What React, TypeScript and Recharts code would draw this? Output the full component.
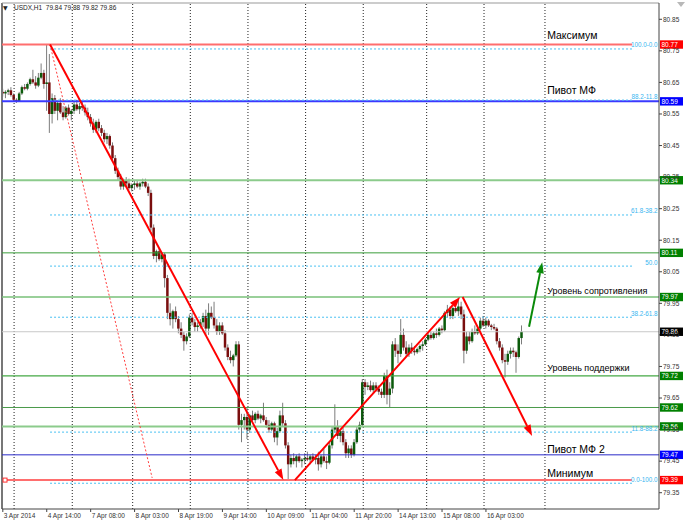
import React from 'react';
import { ComposedChart, Bar, XAxis, YAxis, ReferenceLine, ReferenceDot } from 'recharts';

const FONT = '"Liberation Sans", Arial, sans-serif';

const opens = [
  80.62, 80.615, 80.62, 80.625, 80.61, 80.595, 80.59, 80.615, 80.635, 80.63,
  80.645, 80.66, 80.65, 80.64, 80.665, 80.68, 80.645, 80.65, 80.55, 80.60,
  80.56, 80.585, 80.555, 80.54, 80.57, 80.55, 80.56, 80.58, 80.565, 80.575,
  80.57, 80.555, 80.54, 80.52, 80.50, 80.525, 80.505, 80.49, 80.47, 80.48,
  80.45, 80.41, 80.37, 80.35, 80.32, 80.34, 80.33, 80.315, 80.325, 80.33,
  80.32, 80.33, 80.335, 80.32, 80.30, 80.19, 80.10, 80.115, 80.09, 80.105,
  80.03, 79.92, 79.90, 79.925, 79.90, 79.87, 79.85, 79.83, 79.845, 79.905,
  79.89, 79.875, 79.88, 79.89, 79.91, 79.87, 79.92, 79.905, 79.88, 79.86,
  79.88, 79.855, 79.81, 79.78, 79.77, 79.785, 79.82, 79.565, 79.58, 79.59,
  79.55, 79.595, 79.58, 79.60, 79.585, 79.595, 79.58, 79.565, 79.55, 79.57,
  79.525, 79.545, 79.595, 79.57, 79.50, 79.44, 79.46, 79.45, 79.465, 79.45,
  79.455, 79.46, 79.455, 79.465, 79.455, 79.46, 79.44, 79.465, 79.45, 79.445,
  79.50, 79.55, 79.56, 79.53, 79.545, 79.51, 79.475, 79.49, 79.47, 79.51,
  79.55, 79.565, 79.70, 79.685, 79.69, 79.675, 79.69, 79.68, 79.67, 79.66,
  79.72, 79.66, 79.68, 79.82, 79.80, 79.79, 79.85, 79.81, 79.79, 79.81,
  79.80, 79.795, 79.805, 79.815, 79.82, 79.835, 79.85, 79.84, 79.855, 79.85,
  79.87, 79.865, 79.92, 79.93, 79.91, 79.935, 79.925, 79.94, 79.915, 79.80,
  79.845, 79.83, 79.86, 79.855, 79.87, 79.895, 79.88, 79.895, 79.88, 79.875,
  79.87, 79.83, 79.81, 79.77, 79.765, 79.79, 79.80, 79.795, 79.78, 79.84,
];

const highs = [
  80.63, 80.625, 80.63, 80.635, 80.615, 80.60, 80.62, 80.64, 80.645, 80.65,
  80.665, 80.69, 80.67, 80.68, 80.71, 80.69, 80.77, 80.74, 80.615, 80.61,
  80.59, 80.60, 80.575, 80.575, 80.58, 80.565, 80.59, 80.595, 80.585, 80.59,
  80.58, 80.57, 80.55, 80.535, 80.53, 80.535, 80.515, 80.50, 80.49, 80.485,
  80.46, 80.42, 80.38, 80.36, 80.345, 80.35, 80.345, 80.33, 80.34, 80.34,
  80.335, 80.345, 80.345, 80.33, 80.31, 80.20, 80.12, 80.125, 80.11, 80.11,
  80.04, 79.95, 79.93, 79.94, 79.91, 79.89, 79.86, 79.855, 79.915, 79.92,
  79.90, 79.89, 79.90, 79.92, 79.93, 79.95, 79.94, 79.955, 79.90, 79.89,
  79.89, 79.865, 79.82, 79.80, 79.79, 79.83, 79.83, 79.60, 79.60, 79.62,
  79.60, 79.61, 79.605, 79.61, 79.60, 79.635, 79.59, 79.58, 79.575, 79.575,
  79.555, 79.61, 79.635, 79.58, 79.51, 79.47, 79.475, 79.47, 79.475, 79.46,
  79.475, 79.48, 79.47, 79.475, 79.47, 79.48, 79.47, 79.49, 79.465, 79.51,
  79.56, 79.63, 79.58, 79.55, 79.555, 79.52, 79.50, 79.50, 79.52, 79.56,
  79.575, 79.71, 79.71, 79.70, 79.705, 79.70, 79.70, 79.69, 79.68, 79.73,
  79.74, 79.70, 79.83, 79.84, 79.82, 79.90, 79.87, 79.83, 79.82, 79.825,
  79.815, 79.81, 79.82, 79.83, 79.84, 79.855, 79.86, 79.86, 79.87, 79.875,
  79.88, 79.925, 79.945, 79.94, 79.94, 79.95, 79.97, 79.955, 79.93, 79.86,
  79.86, 79.87, 79.88, 79.875, 79.905, 79.91, 79.905, 79.90, 79.885, 79.885,
  79.875, 79.84, 79.82, 79.79, 79.80, 79.81, 79.81, 79.80, 79.845, 79.88,
];

const lows = [
  80.605, 80.60, 80.61, 80.605, 80.59, 80.585, 80.588, 80.61, 80.625, 80.625,
  80.64, 80.645, 80.63, 80.635, 80.66, 80.63, 80.56, 80.49, 80.52, 80.55,
  80.53, 80.55, 80.53, 80.535, 80.545, 80.53, 80.55, 80.56, 80.55, 80.56,
  80.545, 80.53, 80.51, 80.49, 80.49, 80.495, 80.48, 80.46, 80.455, 80.44,
  80.40, 80.36, 80.34, 80.31, 80.31, 80.32, 80.31, 80.305, 80.31, 80.315,
  80.31, 80.32, 80.315, 80.29, 80.18, 80.09, 80.08, 80.085, 80.08, 80.00,
  79.90, 79.88, 79.87, 79.89, 79.855, 79.84, 79.80, 79.82, 79.84, 79.88,
  79.86, 79.86, 79.87, 79.875, 79.85, 79.85, 79.90, 79.87, 79.85, 79.85,
  79.85, 79.80, 79.77, 79.76, 79.75, 79.78, 79.55, 79.51, 79.55, 79.52,
  79.54, 79.575, 79.57, 79.58, 79.57, 79.575, 79.555, 79.54, 79.545, 79.51,
  79.50, 79.54, 79.56, 79.49, 79.39, 79.43, 79.44, 79.43, 79.445, 79.43,
  79.44, 79.45, 79.44, 79.45, 79.44, 79.42, 79.43, 79.445, 79.425, 79.44,
  79.49, 79.54, 79.52, 79.51, 79.50, 79.46, 79.46, 79.46, 79.465, 79.505,
  79.54, 79.56, 79.66, 79.675, 79.67, 79.665, 79.67, 79.66, 79.65, 79.65,
  79.63, 79.62, 79.665, 79.78, 79.76, 79.78, 79.80, 79.78, 79.78, 79.79,
  79.785, 79.79, 79.795, 79.80, 79.815, 79.83, 79.835, 79.835, 79.84, 79.845,
  79.855, 79.86, 79.905, 79.90, 79.90, 79.92, 79.91, 79.90, 79.76, 79.79,
  79.82, 79.825, 79.85, 79.85, 79.865, 79.875, 79.87, 79.875, 79.865, 79.865,
  79.82, 79.80, 79.76, 79.715, 79.755, 79.775, 79.78, 79.73, 79.775, 79.82,
];

const closes = [
  80.615, 80.62, 80.625, 80.61, 80.595, 80.59, 80.615, 80.635, 80.63, 80.645,
  80.66, 80.65, 80.64, 80.665, 80.68, 80.645, 80.65, 80.55, 80.60, 80.56,
  80.585, 80.555, 80.54, 80.57, 80.55, 80.56, 80.58, 80.565, 80.575, 80.57,
  80.555, 80.54, 80.52, 80.50, 80.525, 80.505, 80.49, 80.47, 80.48, 80.45,
  80.41, 80.37, 80.35, 80.32, 80.34, 80.33, 80.315, 80.325, 80.33, 80.32,
  80.33, 80.335, 80.32, 80.30, 80.19, 80.10, 80.115, 80.09, 80.105, 80.03,
  79.92, 79.90, 79.925, 79.90, 79.87, 79.85, 79.83, 79.845, 79.905, 79.89,
  79.875, 79.88, 79.89, 79.91, 79.87, 79.92, 79.905, 79.88, 79.86, 79.88,
  79.855, 79.81, 79.78, 79.77, 79.785, 79.82, 79.565, 79.58, 79.59, 79.55,
  79.595, 79.58, 79.60, 79.585, 79.595, 79.58, 79.565, 79.55, 79.57, 79.525,
  79.545, 79.595, 79.57, 79.50, 79.44, 79.46, 79.45, 79.465, 79.45, 79.455,
  79.46, 79.455, 79.465, 79.455, 79.46, 79.44, 79.465, 79.45, 79.445, 79.50,
  79.55, 79.56, 79.53, 79.545, 79.51, 79.475, 79.49, 79.47, 79.51, 79.55,
  79.565, 79.70, 79.685, 79.69, 79.675, 79.69, 79.68, 79.67, 79.66, 79.72,
  79.66, 79.68, 79.82, 79.80, 79.79, 79.85, 79.81, 79.79, 79.81, 79.80,
  79.795, 79.805, 79.815, 79.82, 79.835, 79.85, 79.84, 79.855, 79.85, 79.87,
  79.865, 79.92, 79.93, 79.91, 79.935, 79.925, 79.94, 79.915, 79.80, 79.845,
  79.83, 79.86, 79.855, 79.87, 79.895, 79.88, 79.895, 79.88, 79.875, 79.87,
  79.83, 79.81, 79.77, 79.765, 79.79, 79.80, 79.795, 79.78, 79.84, 79.86,
];

const timeTickBars = [0, 16, 32, 48, 64, 80, 96, 112, 128, 144, 160, 176];
const timeTickLabels = [
  '3 Apr 2014', '4 Apr 14:00', '7 Apr 08:00', '8 Apr 03:00', '8 Apr 19:00', '9 Apr 14:00',
  '10 Apr 09:00', '11 Apr 04:00', '11 Apr 20:00', '14 Apr 13:00', '15 Apr 08:00', '16 Apr 03:00',
];
const priceTicks = [79.35, 79.45, 79.55, 79.65, 79.75, 79.85, 79.95, 80.05, 80.15, 80.25, 80.35, 80.45, 80.55, 80.65, 80.75, 80.85];
const gridBars = [4.1, 25.3, 47.3, 68.3, 89.3, 110.3, 131.3, 154.4, 175.3, 197.5];

const xDomain = [-0.3, 239.04];
const yDomain = [79.2984, 80.9016];

// horizontal level lines
const greenLevels = [80.34, 80.11, 79.97, 79.72, 79.62, 79.56];
const greenColors = ['#8ccb8c', '#3a9e3a', '#78c078', '#45a845', '#4a9a4a', '#8ccb8c'];
const greenWidths = [2, 1, 1.6, 1.2, 1, 2];
const pivotLevels = [80.59, 79.47];
const pivotColors = ['#3a3aff', '#2a2ac8'];
const pivotWidths = [2, 1];
const bidPrice = 79.86;
const extremeLevels = [80.77, 79.39];
const extremeStartBars = [-0.3, 0.8];
const extremeEndBar = 229.2;

// price boxes on the axis
const boxPrices = [80.77, 80.59, 80.34, 80.11, 79.97, 79.86, 79.72, 79.62, 79.56, 79.47, 79.39];
const boxColors = ['#ff0000', '#0000ff', '#008000', '#008000', '#008000', '#000000', '#008000', '#008000', '#008000', '#0000ff', '#ff0000'];

// fibonacci
const fiboPrices = [80.756, 80.594, 80.23, 80.068, 79.906, 79.542, 79.38];
const fiboLabels = ['100.0-0.0', '88.2-11.8', '61.8-38.2', '50.0', '38.2-61.8', '11.8-88.2', '0.0-100.0'];
const fiboStartBar = 17.2;
const fiboEndBar = 229.2;

// trend arrows
const arrowFrom = [
  { bar: 17.2, price: 80.77 },
  { bar: 106.4, price: 79.39 },
  { bar: 167.5, price: 79.97 },
  { bar: 191.7, price: 79.876 },
];
const arrowTo = [
  { bar: 102.2, price: 79.39 },
  { bar: 166.6, price: 79.97 },
  { bar: 192.8, price: 79.53 },
  { bar: 196.5, price: 80.08 },
];
const arrowColors = ['#ff0000', '#ff0000', '#ff0000', '#0a8a0a'];
const dottedFrom = { bar: 17.2, price: 80.77 };
const dottedTo = { bar: 54.4, price: 79.397 };

// text notes
const noteTexts = ['Максимум', 'Пивот МФ', 'Уровень сопротивления', 'Уровень поддержки', 'Пивот МФ 2', 'Минимум'];
const noteBars = [198.3, 198.3, 198.3, 198.3, 198.3, 198.3];
const notePrices = [80.788, 80.613, 79.98, 79.736, 79.477, 79.40];
const noteSizes = [10.5, 10.5, 9, 9, 10.5, 10.5];

const candles = opens.map((o, i) => ({
  bar: i,
  o,
  h: highs[i],
  l: lows[i],
  c: closes[i],
  range: [lows[i], highs[i]],
}));

const Candle = (props: any) => {
  const { x, y, width, height, payload } = props;
  if (x == null || y == null) return null;
  const top = Math.min(y, y + height);
  const hgt = Math.abs(height);
  const { o, h, l, c } = payload;
  const cx = x + width / 2;
  const span = h - l;
  const py = (p: number) => (span === 0 ? top : top + ((h - p) / span) * hgt);
  const bt = py(Math.max(o, c));
  const bb = py(Math.min(o, c));
  const up = c >= o;
  return (
    <g>
      <line x1={cx} x2={cx} y1={top} y2={top + hgt} stroke="#7c7c7c" strokeWidth={1} />
      <rect x={cx - 1.25} y={bt} width={2.5} height={Math.max(bb - bt, 0.8)} fill={up ? '#0b5a0b' : '#7a0e0e'} />
    </g>
  );
};

const XTick = (props: any) => {
  const { x, y, payload } = props;
  const idx = timeTickBars.indexOf(payload.value);
  return (
    <text x={x + 1} y={y + 5.5} fontSize={6.5} fill="#333" fontFamily={FONT} textAnchor="start">
      {timeTickLabels[idx]}
    </text>
  );
};

const YTick = (props: any) => {
  const { x, y, payload } = props;
  return (
    <text x={x} y={y + 2.3} fontSize={6.5} fill="#333" fontFamily={FONT} textAnchor="start">
      {Number(payload.value).toFixed(2)}
    </text>
  );
};

const arrowShape = (color: string, w: number) => (p: any) => {
  const { x1, y1, x2, y2 } = p;
  const ang = Math.atan2(y2 - y1, x2 - x1);
  const len = 11;
  const half = 3.8;
  const bx = x2 - len * Math.cos(ang);
  const by = y2 - len * Math.sin(ang);
  const px = -Math.sin(ang) * half;
  const py = Math.cos(ang) * half;
  return (
    <g>
      <line x1={x1} y1={y1} x2={bx} y2={by} stroke={color} strokeWidth={w} />
      <polygon points={`${x2},${y2} ${bx + px},${by + py} ${bx - px},${by - py}`} fill={color} />
    </g>
  );
};

const boxShape = (color: string, txt: string) => (p: any) => {
  const { cx, cy } = p;
  return (
    <g>
      <rect x={cx + 1} y={cy - 4.2} width={23} height={8.4} fill={color} />
      <text x={cx + 2.5} y={cy + 2.4} fontSize={6.5} fill="#ffffff" fontFamily={FONT}>{txt}</text>
    </g>
  );
};

const noteShape = (txt: string, size: number) => (p: any) => (
  <text x={p.cx} y={p.cy} fontSize={size} fill="#000" fontFamily={FONT}>{txt}</text>
);

const fiboLabelShape = (txt: string) => (p: any) => (
  <text x={p.cx - 1} y={p.cy - 1.5} fontSize={6.3} fill="#38b6f0" fontFamily={FONT} textAnchor="end">{txt}</text>
);

const squareShape = (p: any) => (
  <rect x={p.cx - 2} y={p.cy - 2} width={4} height={4} fill="#fff" stroke="#ff3030" strokeWidth={1} />
);

export default function App() {
  return (
    <div style={{ position: 'absolute', left: 0, top: 0, width: 688, height: 523, background: '#fff' }}>
      <ComposedChart
        width={688}
        height={523}
        data={candles}
        margin={{ top: 3, right: 0, bottom: 0, left: 2 }}
        style={{ background: '#fff' }}
      >
        <XAxis
          dataKey="bar"
          type="number"
          domain={xDomain}
          allowDataOverflow
          ticks={timeTickBars}
          interval={0}
          tick={<XTick />}
          tickSize={3}
          tickMargin={0}
          height={14}
          axisLine={{ stroke: '#444' }}
          tickLine={{ stroke: '#444' }}
        />
        <YAxis
          orientation="right"
          type="number"
          domain={yDomain}
          allowDataOverflow
          ticks={priceTicks}
          interval={0}
          tick={<YTick />}
          tickSize={3}
          tickMargin={1}
          width={29}
          axisLine={{ stroke: '#444' }}
          tickLine={{ stroke: '#444' }}
        />
        <ReferenceLine x={xDomain[0]} stroke="#777" strokeWidth={2} />
        <ReferenceLine y={yDomain[1]} stroke="#999" strokeWidth={1} />
        {gridBars.map((b) => (
          <ReferenceLine key={'g' + b} x={b} stroke="#222" strokeDasharray="1 2" />
        ))}
        {greenLevels.map((p, i) => (
          <ReferenceLine key={'gl' + p} y={p} stroke={greenColors[i]} strokeWidth={greenWidths[i]} />
        ))}
        <ReferenceLine y={bidPrice} stroke="#c8c8c8" strokeWidth={1} />
        {pivotLevels.map((p, i) => (
          <ReferenceLine key={'pv' + p} y={p} stroke={pivotColors[i]} strokeWidth={pivotWidths[i]} />
        ))}
        {extremeLevels.map((p, i) => (
          <ReferenceLine
            key={'ex' + p}
            segment={[{ x: extremeStartBars[i], y: p }, { x: extremeEndBar, y: p }]}
            stroke="#ff6e6e"
            strokeWidth={2}
          />
        ))}
        {fiboPrices.map((p) => (
          <ReferenceLine
            key={'fb' + p}
            segment={[{ x: fiboStartBar, y: p }, { x: fiboEndBar, y: p }]}
            stroke="#48c0f2"
            strokeDasharray="2 2"
            strokeWidth={1}
          />
        ))}
        <Bar dataKey="range" barSize={3} shape={<Candle />} isAnimationActive={false} />
        <ReferenceLine
          segment={[{ x: dottedFrom.bar, y: dottedFrom.price }, { x: dottedTo.bar, y: dottedTo.price }]}
          stroke="#ff4040"
          strokeDasharray="2 2"
          strokeWidth={1}
        />
        {arrowFrom.map((a, i) => (
          <ReferenceLine
            key={'ar' + i}
            segment={[{ x: a.bar, y: a.price }, { x: arrowTo[i].bar, y: arrowTo[i].price }]}
            shape={arrowShape(arrowColors[i], 2)}
          />
        ))}
        {fiboPrices.map((p, i) => (
          <ReferenceDot key={'fl' + p} x={fiboEndBar + 9.7} y={p} r={0} shape={fiboLabelShape(fiboLabels[i])} />
        ))}
        {noteTexts.map((t, i) => (
          <ReferenceDot key={'nt' + i} x={noteBars[i]} y={notePrices[i]} r={0} shape={noteShape(t, noteSizes[i])} />
        ))}
        <ReferenceDot x={extremeStartBars[1]} y={extremeLevels[1]} r={2} shape={squareShape} />
        {boxPrices.map((p, i) => (
          <ReferenceDot key={'bx' + p} x={xDomain[1]} y={p} r={0} shape={boxShape(boxColors[i], p.toFixed(2))} />
        ))}
      </ComposedChart>
      <div
        style={{
          position: 'absolute',
          left: 3,
          top: 4,
          fontSize: 6,
          fontFamily: '"DejaVu Sans", sans-serif',
          color: '#222',
          lineHeight: '8px',
        }}
      >
        ▼
      </div>
      <div
        style={{
          position: 'absolute',
          left: 14,
          top: 4,
          fontSize: 6.5,
          fontFamily: FONT,
          color: '#222',
          lineHeight: '8px',
          whiteSpace: 'pre',
        }}
      >
        {'USDX,H1  79.84 79.88 79.82 79.86'}
      </div>
      <svg style={{ position: 'absolute', left: 676, top: 1 }} width={10} height={8}>
        <polygon points="1,1 9,1 5,6" fill="#b8b8b8" />
      </svg>
    </div>
  );
}
